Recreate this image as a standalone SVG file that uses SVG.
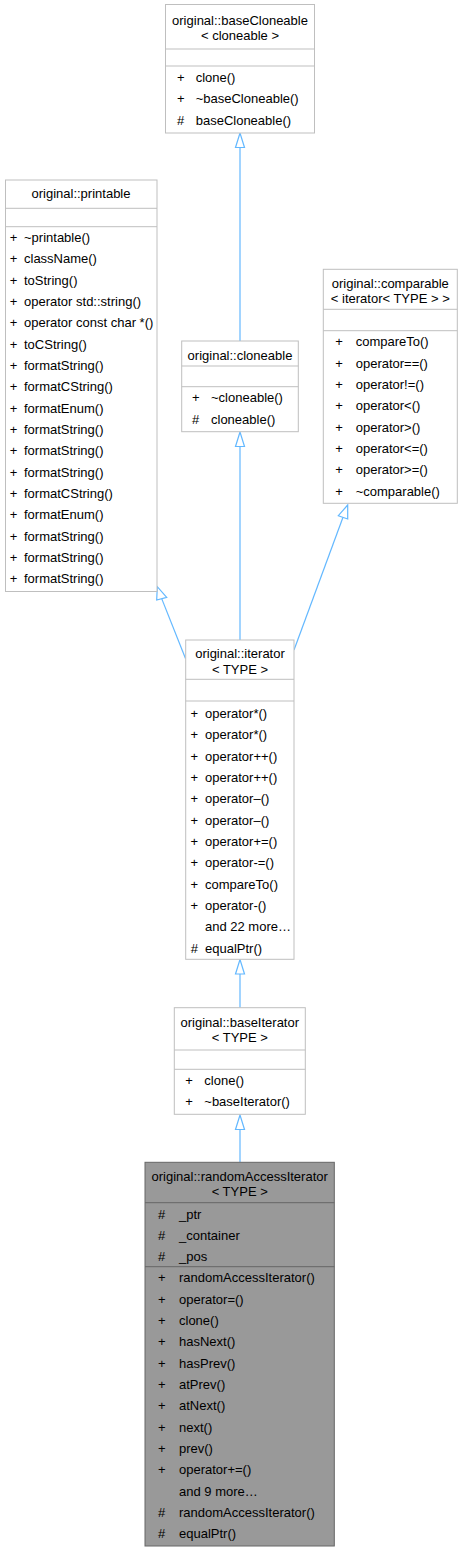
<svg xmlns="http://www.w3.org/2000/svg" width="463" height="1552" viewBox="0 0 463 1552">
<style>
text{font-family:"Liberation Sans",Arial,sans-serif;font-size:13px;fill:#000}
.c{text-anchor:middle}
.box{fill:#fff;stroke:#bfbfbf;stroke-width:1}
.hbox{fill:#999999;stroke:#666666;stroke-width:1}
.sep{stroke:#bfbfbf;stroke-width:1}
.hsep{stroke:#666666;stroke-width:1}
.edge{stroke:#63b8ff;stroke-width:1.2;fill:none}
.ah{fill:#fff;stroke:#63b8ff;stroke-width:1.2}
.p{text-anchor:middle}
</style>
<rect width="463" height="1552" fill="#fff"/>
<g id="connectors">
<line class="edge" x1="240" y1="341" x2="240" y2="147.5"/>
<polygon class="ah" points="240,133 235.5,147.5 244.5,147.5"/>
<line class="edge" x1="240" y1="640" x2="240" y2="446.5"/>
<polygon class="ah" points="240,432 235.5,446.5 244.5,446.5"/>
<line class="edge" x1="185.5" y1="658.5" x2="161.7" y2="598.6"/>
<polygon class="ah" points="157.3,586.7 156.7,600 166.7,597.3"/>
<line class="edge" x1="294" y1="650" x2="343" y2="517.3"/>
<polygon class="ah" points="347.7,505 338.3,515.7 347.7,519"/>
<line class="edge" x1="240" y1="1007.7" x2="240" y2="974"/>
<polygon class="ah" points="240,959.5 235.5,974 244.5,974"/>
<line class="edge" x1="240" y1="1162" x2="240" y2="1129.5"/>
<polygon class="ah" points="240,1115 235.5,1129.5 244.5,1129.5"/>
</g>
<g id="baseCloneable">
<rect class="box" x="165.5" y="4.5" width="149" height="128.5"/>
<text class="c" x="240" y="24.5">original::baseCloneable</text>
<text class="c" x="240" y="39.5">&lt; cloneable &gt;</text>
<line class="sep" x1="165.5" y1="49" x2="314.5" y2="49"/>
<line class="sep" x1="165.5" y1="66" x2="314.5" y2="66"/>
<text class="p" x="180.7" y="82">+</text><text x="195.7" y="82">clone()</text>
<text class="p" x="180.7" y="103.3">+</text><text x="195.7" y="103.3">~baseCloneable()</text>
<text class="p" x="180.7" y="124.7">#</text><text x="195.7" y="124.7">baseCloneable()</text>
</g>
<g id="printable">
<rect class="box" x="5.5" y="180" width="151.5" height="411.5"/>
<text class="c" x="81" y="197.8">original::printable</text>
<line class="sep" x1="5.5" y1="208.3" x2="157" y2="208.3"/>
<line class="sep" x1="5.5" y1="226.7" x2="157" y2="226.7"/>
<text class="p" x="13.5" y="241.8">+</text><text x="24" y="241.8">~printable()</text>
<text class="p" x="13.5" y="263.1">+</text><text x="24" y="263.1">className()</text>
<text class="p" x="13.5" y="284.5">+</text><text x="24" y="284.5">toString()</text>
<text class="p" x="13.5" y="305.8">+</text><text x="24" y="305.8">operator std::string()</text>
<text class="p" x="13.5" y="327.1">+</text><text x="24" y="327.1">operator const char *()</text>
<text class="p" x="13.5" y="348.5">+</text><text x="24" y="348.5">toCString()</text>
<text class="p" x="13.5" y="369.8">+</text><text x="24" y="369.8">formatString()</text>
<text class="p" x="13.5" y="391.1">+</text><text x="24" y="391.1">formatCString()</text>
<text class="p" x="13.5" y="412.5">+</text><text x="24" y="412.5">formatEnum()</text>
<text class="p" x="13.5" y="433.8">+</text><text x="24" y="433.8">formatString()</text>
<text class="p" x="13.5" y="455.1">+</text><text x="24" y="455.1">formatString()</text>
<text class="p" x="13.5" y="476.5">+</text><text x="24" y="476.5">formatString()</text>
<text class="p" x="13.5" y="497.8">+</text><text x="24" y="497.8">formatCString()</text>
<text class="p" x="13.5" y="519.1">+</text><text x="24" y="519.1">formatEnum()</text>
<text class="p" x="13.5" y="540.5">+</text><text x="24" y="540.5">formatString()</text>
<text class="p" x="13.5" y="561.8">+</text><text x="24" y="561.8">formatString()</text>
<text class="p" x="13.5" y="583.1">+</text><text x="24" y="583.1">formatString()</text>
</g>
<g id="cloneable">
<rect class="box" x="181.7" y="341" width="116.6" height="90.7"/>
<text class="c" x="240" y="359.5">original::cloneable</text>
<line class="sep" x1="181.7" y1="366" x2="298.3" y2="366"/>
<line class="sep" x1="181.7" y1="386.7" x2="298.3" y2="386.7"/>
<text class="p" x="195.7" y="402.2">+</text><text x="211" y="402.2">~cloneable()</text>
<text class="p" x="195.7" y="423.5">#</text><text x="211" y="423.5">cloneable()</text>
</g>
<g id="comparable">
<rect class="box" x="323.3" y="269.3" width="134" height="234"/>
<text class="c" x="390.3" y="287.8">original::comparable</text>
<text class="c" x="390.3" y="302.8">&lt; iterator&lt; TYPE &gt; &gt;</text>
<line class="sep" x1="323.3" y1="309.3" x2="457.3" y2="309.3"/>
<line class="sep" x1="323.3" y1="330.7" x2="457.3" y2="330.7"/>
<text class="p" x="339" y="346.2">+</text><text x="355.7" y="346.2">compareTo()</text>
<text class="p" x="339" y="367.5">+</text><text x="355.7" y="367.5">operator==()</text>
<text class="p" x="339" y="388.9">+</text><text x="355.7" y="388.9">operator!=()</text>
<text class="p" x="339" y="410.2">+</text><text x="355.7" y="410.2">operator&lt;()</text>
<text class="p" x="339" y="431.5">+</text><text x="355.7" y="431.5">operator&gt;()</text>
<text class="p" x="339" y="452.9">+</text><text x="355.7" y="452.9">operator&lt;=()</text>
<text class="p" x="339" y="474.2">+</text><text x="355.7" y="474.2">operator&gt;=()</text>
<text class="p" x="339" y="495.5">+</text><text x="355.7" y="495.5">~comparable()</text>
</g>
<g id="iterator">
<rect class="box" x="185.7" y="640" width="108.3" height="319.3"/>
<text class="c" x="240" y="657.8">original::iterator</text>
<text class="c" x="240" y="673.8">&lt; TYPE &gt;</text>
<line class="sep" x1="185.7" y1="679.3" x2="294" y2="679.3"/>
<line class="sep" x1="185.7" y1="701" x2="294" y2="701"/>
<text class="p" x="194.3" y="717.8">+</text><text x="205" y="717.8">operator*()</text>
<text class="p" x="194.3" y="739.1">+</text><text x="205" y="739.1">operator*()</text>
<text class="p" x="194.3" y="760.5">+</text><text x="205" y="760.5">operator++()</text>
<text class="p" x="194.3" y="781.8">+</text><text x="205" y="781.8">operator++()</text>
<text class="p" x="194.3" y="803.1">+</text><text x="205" y="803.1">operator–()</text>
<text class="p" x="194.3" y="824.5">+</text><text x="205" y="824.5">operator–()</text>
<text class="p" x="194.3" y="845.8">+</text><text x="205" y="845.8">operator+=()</text>
<text class="p" x="194.3" y="867.1">+</text><text x="205" y="867.1">operator-=()</text>
<text class="p" x="194.3" y="888.5">+</text><text x="205" y="888.5">compareTo()</text>
<text class="p" x="194.3" y="909.8">+</text><text x="205" y="909.8">operator-()</text>
<text x="205" y="931.1">and 22 more…</text>
<text class="p" x="194.3" y="952.5">#</text><text x="205" y="952.5">equalPtr()</text>
</g>
<g id="baseIterator">
<rect class="box" x="174.3" y="1007.7" width="131" height="106.6"/>
<text class="c" x="239.8" y="1026.8">original::baseIterator</text>
<text class="c" x="239.8" y="1042.2">&lt; TYPE &gt;</text>
<line class="sep" x1="174.3" y1="1050" x2="305.3" y2="1050"/>
<line class="sep" x1="174.3" y1="1069.3" x2="305.3" y2="1069.3"/>
<text class="p" x="189" y="1085.2">+</text><text x="204.3" y="1085.2">clone()</text>
<text class="p" x="189" y="1106">+</text><text x="204.3" y="1106">~baseIterator()</text>
</g>
<g id="randomAccessIterator">
<rect class="hbox" x="145" y="1162.3" width="189.3" height="383.7"/>
<text class="c" x="239.7" y="1181.2">original::randomAccessIterator</text>
<text class="c" x="239.7" y="1196.2">&lt; TYPE &gt;</text>
<line class="hsep" x1="145" y1="1202.7" x2="334.3" y2="1202.7"/>
<line class="hsep" x1="145" y1="1266.7" x2="334.3" y2="1266.7"/>
<text class="p" x="161.7" y="1218.5">#</text><text x="179" y="1218.5">_ptr</text>
<text class="p" x="161.7" y="1239.8">#</text><text x="179" y="1239.8">_container</text>
<text class="p" x="161.7" y="1261.2">#</text><text x="179" y="1261.2">_pos</text>
<text class="p" x="161.7" y="1282.2">+</text><text x="179" y="1282.2">randomAccessIterator()</text>
<text class="p" x="161.7" y="1303.5">+</text><text x="179" y="1303.5">operator=()</text>
<text class="p" x="161.7" y="1324.9">+</text><text x="179" y="1324.9">clone()</text>
<text class="p" x="161.7" y="1346.2">+</text><text x="179" y="1346.2">hasNext()</text>
<text class="p" x="161.7" y="1367.5">+</text><text x="179" y="1367.5">hasPrev()</text>
<text class="p" x="161.7" y="1388.9">+</text><text x="179" y="1388.9">atPrev()</text>
<text class="p" x="161.7" y="1410.2">+</text><text x="179" y="1410.2">atNext()</text>
<text class="p" x="161.7" y="1431.5">+</text><text x="179" y="1431.5">next()</text>
<text class="p" x="161.7" y="1452.9">+</text><text x="179" y="1452.9">prev()</text>
<text class="p" x="161.7" y="1474.2">+</text><text x="179" y="1474.2">operator+=()</text>
<text x="179" y="1495.5">and 9 more…</text>
<text class="p" x="161.7" y="1516.9">#</text><text x="179" y="1516.9">randomAccessIterator()</text>
<text class="p" x="161.7" y="1538.2">#</text><text x="179" y="1538.2">equalPtr()</text>
</g>
</svg>
